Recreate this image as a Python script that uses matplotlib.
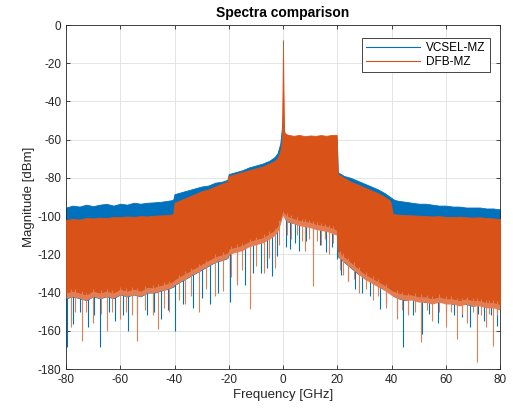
import matplotlib
matplotlib.use("Agg")
import matplotlib.pyplot as plt
import numpy as np

plt.rcParams['font.family'] = ['Liberation Sans', 'DejaVu Sans']
plt.rcParams['axes.unicode_minus'] = False

# ---------------- data ----------------
# VCSEL-MZ envelope
vcsel_f = [-80, -77.5, -75, -72.5, -70, -67.5, -65, -62.5, -60, -57.5, -55, -52.5, -50, -47.5, -45, -42.5, -40.5,
           -40, -37.5, -35, -32.5, -30, -27.5, -25, -22.5, -20.5,
           -20, -17.5, -15, -12.5, -10, -7.5, -5, -3, -2, -1, -0.5, 0, 0.5, 1, 2,
           5, 10, 15, 19.8,
           20.2, 22.5, 25, 27.5, 30, 32.5, 35, 37.5, 39.5,
           41, 42.5, 45, 47.5, 50, 52.5, 55, 57.5, 60, 62.5, 65, 67.5, 70, 72.5, 75, 77.5, 80]
vcsel_hi = [-95.5, -94.5, -95, -94, -94.8, -94, -93.6, -94.5, -93.5, -94, -93, -93.5, -93, -92.8, -92.5, -92, -91.5,
            -88.5, -87.5, -86.5, -85.5, -84.5, -84, -82.5, -82, -81,
            -78, -77, -76, -74.5, -73.5, -72.5, -71, -69, -67, -62, -55, -47, -56, -58, -59,
            -59, -59, -59, -59,
            -77, -79, -80, -81.5, -83, -84.5, -86, -88, -90,
            -91.5, -92, -92.5, -93, -93.5, -93.5, -94, -94.5, -94.5, -95, -95, -95.5, -95.5, -95.5, -96, -96, -96.5]
vcsel_lo = [-143, -142, -143, -144, -142, -143, -142, -143, -141, -142, -141, -142, -140, -140, -139, -138, -137,
            -136, -134, -132, -130, -128, -126, -124, -123, -122,
            -120, -118, -117, -115, -114, -113, -111, -109, -107, -103, -99, -98, -100, -102, -103,
            -104, -105, -106, -108,
            -121, -124, -127, -130, -132, -134, -136, -138, -140,
            -142, -143, -144, -143, -144, -145, -144, -145, -144, -146, -145, -146, -147, -146, -147, -147, -149]

# DFB-MZ envelope
dfb_f = [-80, -77.5, -75, -72.5, -70, -67.5, -65, -62.5, -60, -57.5, -55, -52.5, -50, -47.5, -45, -42.5, -40.5,
         -40, -37.5, -35, -32.5, -30, -27.5, -25, -22.5, -20.5,
         -20, -17.5, -15, -12.5, -10, -7.5, -5, -3, -2, -1, -0.4, -0.15, 0, 0.15, 0.4, 1, 2,
         4, 6, 8, 10, 12, 14, 16, 18, 19.8,
         20.2, 22.5, 25, 27.5, 30, 32.5, 35, 37.5, 39.5,
         40.5, 42.5, 45, 47.5, 50, 52.5, 55, 57.5, 60, 62.5, 65, 67.5, 70, 72.5, 75, 77.5, 80]
dfb_hi = [-102, -101.5, -101.8, -101, -101.2, -100.8, -101, -100.5, -100.6, -100.2, -100.4, -100, -100.2, -99.8, -99.6, -99.5, -99,
          -93, -91.5, -90, -88.5, -87, -86, -84.5, -83, -82,
          -79, -78, -77, -76, -75, -74, -72.5, -71, -69.5, -66, -60, -30, -8, -30, -56, -57, -57.5,
          -58, -57.5, -58.2, -57.8, -58, -57.6, -58, -57.5, -57.5,
          -78, -80, -82, -83.5, -85, -86.5, -88, -90, -92,
          -99, -99.2, -99.5, -99.6, -99.8, -100, -100.2, -100, -100.4, -100.5, -100.3, -100.6, -100.8, -100.6, -101, -101.2, -101.5]
dfb_lo = [-140, -139, -140, -141, -139, -140, -139, -140, -138, -139, -138, -139, -137, -137, -136, -135, -134,
          -133, -131, -129, -127, -125, -123, -121, -120, -119,
          -117, -116, -115, -113, -112, -111, -109, -107, -105, -101, -98, -97, -96.5, -97, -98, -99, -100,
          -101, -102, -102.5, -103, -104, -104.5, -105, -106, -107,
          -118, -121, -124, -127, -130, -132, -134, -136, -138,
          -139, -140, -141, -141, -142, -142, -143, -142, -143, -143, -144, -143, -144, -144, -145, -145, -146]

# spikes below the dense band (frequency GHz, level dBm)
vcsel_dip_f = [-79.7, -77.3, -75, -72, -69.5, -67.5, -64, -62, -59, -57, -54, -50, -47.5, -45, -42.5, -39.8, -37, -33,
               -30, -27, -24, -19.5, -17, -14, -11, -8, -6, -4.2, -2.2, 1.2, 2.6, 4.5, 6, 8.5, 11, 13.5, 16, 18, 19.8,
               21.5, 24, 26.5, 29, 32, 35.8, 38, 42, 44.4, 48, 51.1, 54, 57, 60, 63, 66, 69, 72, 74, 76.5, 78.8]
vcsel_dip_v = [-168.7, -156.5, -150, -158, -152, -168.7, -150, -155, -152, -160, -151, -152, -150, -154, -149, -160,
               -146, -148, -143, -146, -140, -145.2, -134, -136, -130, -130, -127, -131.3, -121, -116, -117.4, -114,
               -118, -113, -120, -115, -119, -116, -122.6, -131, -134, -138, -140, -142, -148.7, -146, -150, -168.7,
               -152, -161.7, -151, -156, -150, -152, -153, -158, -151, -155, -152, -157.4]
dfb_dip_f = [-78, -76.5, -74.2, -72.5, -70, -67, -65, -63, -60, -58, -55.5, -53.9, -51, -48, -46, -44, -42, -38.5, -36,
             -34, -31, -28.5, -25, -22, -19, -17, -15, -12.2, -10, -7, -5, -3, -1.5,
             1.5, 3, 5, 7, 8, 9.5, 11.2, 12.5, 14, 15.5, 17, 18.5,
             21, 22, 24, 26, 28, 30.5, 33, 35, 38, 41.9, 44, 46, 48.5, 51, 53, 55, 57.5, 60, 62, 64, 66, 68, 70,
             71.4, 73, 75, 76, 77.5, 79]
dfb_dip_v = [-158, -150, -165.2, -150, -156, -151, -160, -150, -154, -150, -152, -165.2, -149, -152, -159.1, -148, -150,
             -144, -146, -142, -150, -138, -142, -139, -132, -136, -128, -148.7, -126, -130, -122, -127, -115,
             -110, -112, -110, -113, -118, -112, -136.5, -113, -115, -112, -120, -114,
             -128, -131, -134, -133, -140, -138, -144, -142, -148, -153.9, -149, -152, -150, -166, -149, -155, -150,
             -158, -150, -164.3, -151, -156, -150, -176.5, -152, -158, -151, -167.8, -152]

x_ticks = [-80, -60, -40, -20, 0, 20, 40, 60, 80]
y_ticks = [0, -20, -40, -60, -80, -100, -120, -140, -160, -180]

# ---------------- drawing ----------------
blue = '#0072BD'
orange = '#D95319'
light_orange = '#E47E52'

fig = plt.figure(figsize=(5.13, 4.12), dpi=100)
ax = fig.add_axes([66 / 513, 1 - 369 / 412, 434 / 513, 344 / 412])

vlo = np.array(vcsel_lo, float)
dlo = np.array(dfb_lo, float)
# blue band
ax.fill_between(vcsel_f, vlo, vcsel_hi, color=blue, lw=0.6, zorder=2)
ax.vlines(vcsel_dip_f, np.interp(vcsel_dip_f, vcsel_f, vlo) + 1, vcsel_dip_v, color=blue, lw=0.8, zorder=2)
# orange band with a ragged lighter fringe
ax.fill_between(dfb_f, dlo - 3, dlo, color=light_orange, lw=0, zorder=3)
ax.fill_between(dfb_f, dlo, dfb_hi, color=orange, lw=0.6, zorder=3)
ax.vlines(dfb_dip_f, np.interp(dfb_dip_f, dfb_f, dlo) + 1, dfb_dip_v, color=light_orange, lw=0.8, zorder=3)

ax.plot([], [], color=blue, lw=0.8, label='VCSEL-MZ')
ax.plot([], [], color=orange, lw=0.8, label='DFB-MZ')

ax.set_xlim(-80, 80)
ax.set_ylim(-180, 0)
ax.set_xticks(x_ticks)
ax.set_yticks(y_ticks)
ax.tick_params(direction='in', top=True, right=True, labelsize=8.5, length=3, width=0.6, color='#262626',
               labelcolor='#262626')
ax.grid(True, color='#DFDFDF', lw=0.6, zorder=0)
ax.set_axisbelow(True)
for s in ax.spines.values():
    s.set_linewidth(0.6)
    s.set_color('#262626')

ax.set_xlabel('Frequency [GHz]', fontsize=9.5, color='#262626', labelpad=2)
ax.set_ylabel('Magnitude [dBm]', fontsize=9.5, color='#262626', labelpad=2)
ax.set_title('Spectra comparison', fontsize=10, fontweight='bold', pad=6)

leg = ax.legend(loc='upper right', fontsize=8.5, frameon=True, fancybox=False, framealpha=1,
                edgecolor='#262626', handlelength=4.6, borderpad=0.35, labelspacing=0.2,
                bbox_to_anchor=(0.99, 0.98), handletextpad=0.5)
leg.get_frame().set_linewidth(0.6)

fig.savefig('out.png', dpi=100)
